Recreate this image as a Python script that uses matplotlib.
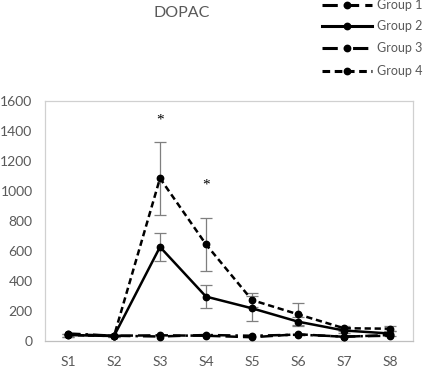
import matplotlib
matplotlib.use("Agg")
import matplotlib.pyplot as plt
from matplotlib.lines import Line2D

categories = ["S1", "S2", "S3", "S4", "S5", "S6", "S7", "S8"]
group1 = [45, 35, 38, 35, 25, 45, 28, 40]
group2 = [40, 33, 627, 296, 218, 129, 70, 50]
group3 = [50, 35, 30, 40, 35, 42, 30, 35]
group4 = [40, 33, 1085, 644, 273, 178, 85, 82]
group2_err = [10, 8, 95, 77, 85, 30, 15, 15]
group4_err = [10, 8, 245, 177, 45, 73, 15, 18]
yticks = [0, 200, 400, 600, 800, 1000, 1200, 1400, 1600]
sig_labels = ["", "", "*", "*", "", "", "", ""]
sig_heights = [0, 0, 1473, 1040, 0, 0, 0, 0]
series_names = ["Group 1", "Group 2", "Group 3", "Group 4"]

plt.rcParams["font.family"] = ["Lato", "DejaVu Sans"]

W, H = 423, 367
fig = plt.figure(figsize=(W/100, H/100), dpi=100)
ax = fig.add_axes([45/W, 1-341/H, 368/W, 240/H])

x = list(range(len(categories)))
gray = "#595959"
lw = 1.8
ms = 4.6

ax.errorbar(x, group4, yerr=group4_err, fmt="none", ecolor="#7f7f7f", elinewidth=0.9, capsize=4, capthick=0.9, zorder=2)
ax.errorbar(x, group2, yerr=group2_err, fmt="none", ecolor="#7f7f7f", elinewidth=0.9, capsize=4, capthick=0.9, zorder=2)

styles = {
    "Group 1": dict(dashes=(5, 2)),
    "Group 2": dict(linestyle="-"),
    "Group 3": dict(dashes=(5, 2, 1, 2)),
    "Group 4": dict(dashes=(2.5, 1.5)),
}
all_vals = [group1, group2, group3, group4]
for name, vals in zip(series_names, all_vals):
    ax.plot(x, vals, color="black", lw=lw, marker="o", markersize=ms, zorder=3, **styles[name])

for xi, lab, h in zip(x, sig_labels, sig_heights):
    if lab:
        ax.text(xi, h, lab, ha="center", va="center", fontsize=11, color="black",
                family=["Liberation Serif", "DejaVu Serif"])

ax.set_xlim(-0.5, len(categories) - 0.5)
ax.set_ylim(0, 1600)
ax.set_yticks(yticks)
ax.set_xticks(x)
ax.set_xticklabels(categories)
ax.tick_params(axis="both", length=0, colors=gray, labelsize=10)
ax.tick_params(axis="y", pad=9)
ax.tick_params(axis="x", pad=11)
for s in ["left", "top", "right"]:
    ax.spines[s].set_color("#d0d0d0")
    ax.spines[s].set_linewidth(0.9)
ax.spines["bottom"].set_color("#bfbfbf")
ax.spines["bottom"].set_linewidth(0.9)

fig.text(182/W, 1-13/H, "DOPAC", ha="center", va="center", fontsize=11.5, color=gray)

# legend drawn manually in figure pixel positions
leg_rows = [5, 26, 48, 71]
for name, yrow in zip(series_names, leg_rows):
    yf = 1 - yrow/H
    fig.add_artist(Line2D([322/W, 372/W], [yf, yf], color="black", lw=2.2,
                          transform=fig.transFigure, **styles[name]))
    fig.add_artist(Line2D([347/W], [yf], color="black", lw=0, marker="o", markersize=ms,
                          transform=fig.transFigure))
    fig.text(377/W, yf, name, ha="left", va="center", fontsize=9, color=gray)

fig.savefig("out.png", dpi=100)
